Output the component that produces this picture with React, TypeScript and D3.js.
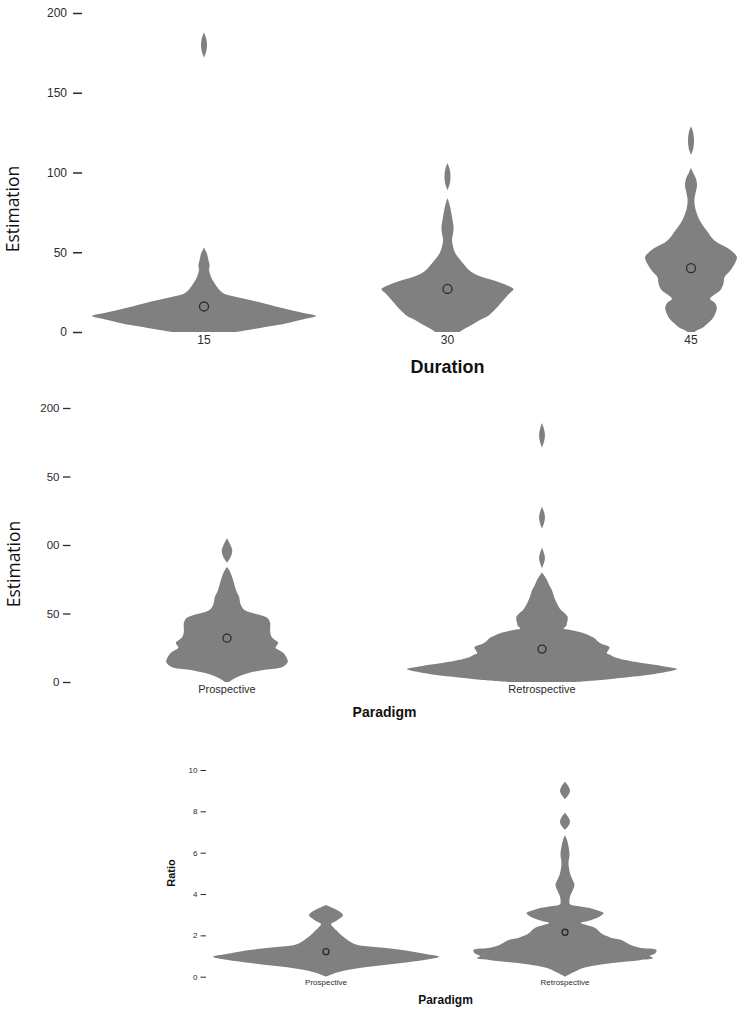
import React, { useEffect, useRef } from 'react';
import * as d3 from 'd3';

// Each violin is a list of blobs; each blob is a list of [value, relative density]
type Point = [number, number];
type Violin = Point[][];

// --- Estimation by duration ---
const durationCategories = ['15', '30', '45'];
const durationMeans = [16, 27, 40];

const duration15: Violin = [
  [[0, .29], [2, .46], [4, .63], [6, .77], [8, .89], [10, 1], [12, .88], [14, .76], [16, .64], [18, .53],
   [20, .41], [22, .29], [24, .18], [27, .13], [31, .09], [35, .06], [39, .045], [42, .05], [45, .04], [49, .027], [53, 0]],
  [[172, 0], [176, .02], [180, .027], [184, .02], [188, 0]],
];

const duration30: Violin = [
  [[0, .11], [2.3, .16], [5, .23], [7.5, .29], [10, .36], [13.8, .42], [16, .45], [20, .5], [24, .55], [26.8, .59],
   [29, .54], [32.6, .4], [35, .29], [37.8, .21], [43, .14], [49.4, .07], [53.5, .05], [57.6, .04], [62, .05],
   [66, .054], [70, .045], [74, .036], [80, .018], [84, 0]],
  [[89, 0], [93, .02], [97.5, .027], [102, .02], [106, 0]],
];

const duration45: Violin = [
  [[0, .03], [1, .05], [3, .11], [5.5, .15], [8.2, .19], [12, .22], [15.5, .23], [18.5, .21], [20.7, .17], [23, .2],
   [26, .26], [30.3, .29], [34.5, .3], [37.6, .34], [42.8, .39], [47, .41], [49, .39], [52, .34], [57.3, .21],
   [63.6, .14], [69.8, .08], [77, .04], [82.5, .03], [87, .04], [92, .054], [96, .045], [100, .018], [103, 0]],
  [[111, 0], [115, .02], [120, .027], [125, .02], [129, 0]],
];

const estimationTicks = [0, 50, 100, 150, 200];
const estimationTickLabels = ['0', '50', '100', '150', '200'];

// --- Estimation by paradigm ---
const paradigmCategories = ['Prospective', 'Retrospective'];
const paradigmMeans = [32, 24];

const prospectiveEstimation: Violin = [
  [[0, .015], [2, .045], [4.5, .1], [6.5, .16], [9, .28], [11, .41], [14.6, .45], [18, .44], [21, .42], [23, .39],
   [25, .36], [28.5, .38], [31, .35], [33, .33], [36.5, .32], [40, .32], [43, .32], [46.7, .3], [49, .24],
   [52.5, .13], [57, .1], [62, .09], [67, .067], [72, .052], [77, .037], [82, .015], [84, 0]],
  [[87, 0], [91, .026], [95.6, .039], [100, .026], [105, 0]],
];

const retrospectiveEstimation: Violin = [
  [[0, .24], [1.5, .44], [4, .68], [7, .9], [9.5, 1], [11, .93], [14, .73], [16, .62], [18.5, .53], [20, .5],
   [21, .48], [23, .49], [25.5, .5], [28, .44], [30, .41], [32, .39], [34, .35], [36, .3], [38, .21], [39, .16],
   [41, .18], [43, .185], [45.5, .19], [47.5, .19], [50, .17], [52.5, .14], [57.5, .11], [62, .09], [67, .074],
   [71, .052], [74.5, .037], [78, .015], [80, 0]],
  [[83, 0], [87, .015], [90.5, .022], [94, .015], [98, 0]],
  [[112, 0], [116, .015], [120, .022], [124, .015], [128, 0]],
  [[171, 0], [175.5, .015], [180, .022], [184.5, .015], [189, 0]],
];

const paradigmEstimationTickLabels = ['0', '50', '00', '50', '200'];

// --- Ratio by paradigm ---
const ratioMeans = [1.21, 2.15];

const prospectiveRatio: Violin = [
  [[0, 0], [0.15, .07], [0.32, .19], [0.5, .42], [0.65, .65], [0.82, .88], [0.97, 1], [1.1, .88], [1.29, .68],
   [1.42, .46], [1.53, .28], [1.7, .21], [1.94, .15], [2.2, .1], [2.42, .06], [2.55, .044], [2.7, .09],
   [2.85, .13], [2.98, .15], [3.15, .12], [3.3, .07], [3.47, 0]],
];

const retrospectiveRatio: Violin = [
  [[0, 0], [0.2, .07], [0.42, .16], [0.66, .42], [0.8, .66], [0.9, .78], [1.0, .75], [1.14, .8], [1.29, .81],
   [1.4, .66], [1.53, .58], [1.77, .5], [1.9, .4], [2.06, .33], [2.35, .27], [2.5, .19], [2.6, .14], [2.72, .22],
   [2.84, .28], [3.0, .33], [3.08, .34], [3.2, .29], [3.32, .22], [3.42, .11], [3.5, .044], [3.87, .044],
   [4.1, .062], [4.44, .084], [4.75, .062], [5.0, .044], [5.5, .031], [5.9, .04], [6.3, .031], [6.6, .018], [6.85, 0]],
  [[7.1, 0], [7.3, .031], [7.5, .044], [7.7, .031], [7.93, 0]],
  [[8.58, 0], [8.8, .031], [9.0, .044], [9.2, .031], [9.43, 0]],
];

const ratioTicks = [0, 2, 4, 6, 8, 10];
const ratioTickLabels = ['0', '2', '4', '6', '8', '10'];

const FILL = '#808080';
const INK = '#2b2b2b';

interface Panel {
  categories: string[];
  violins: Violin[];
  means: number[];
  ticks: number[];
  tickLabels: string[];
  yMax: number;
  top: number;
  bottom: number;
  left: number;
  right: number;
  maxHalf: number;
  axisX: number;
  tickSize: number;
  tickPad: number;
  tickFont: number;
  tickWidth: number;
  catFont: number;
  catY: number;
  meanR: number;
  yTitle: string;
  yTitleX: number;
  yTitleY: number;
  yTitleFont: number;
  yTitleFamily: string;
  yTitleWeight: string;
  xTitle: string;
  xTitleY: number;
  xTitleFont: number;
}

const panels: Panel[] = [
  {
    categories: durationCategories, violins: [duration15, duration30, duration45], means: durationMeans,
    ticks: estimationTicks, tickLabels: estimationTickLabels, yMax: 200,
    top: 13, bottom: 332, left: 204, right: 691, maxHalf: 112,
    axisX: 82, tickSize: 9, tickPad: 6, tickFont: 12, tickWidth: 1.5, catFont: 12, catY: 344, meanR: 4.5,
    yTitle: 'Estimation', yTitleX: 19, yTitleY: 209, yTitleFont: 17.5, yTitleFamily: '"Open Sans", sans-serif', yTitleWeight: 'normal',
    xTitle: 'Duration', xTitleY: 373, xTitleFont: 18,
  },
  {
    categories: paradigmCategories, violins: [prospectiveEstimation, retrospectiveEstimation], means: paradigmMeans,
    ticks: estimationTicks, tickLabels: paradigmEstimationTickLabels, yMax: 200,
    top: 408, bottom: 682, left: 227, right: 542, maxHalf: 135,
    axisX: 70.5, tickSize: 7.5, tickPad: 3.5, tickFont: 11.5, tickWidth: 1.3, catFont: 11, catY: 693, meanR: 4,
    yTitle: 'Estimation', yTitleX: 20, yTitleY: 564, yTitleFont: 17.5, yTitleFamily: '"Open Sans", sans-serif', yTitleWeight: 'normal',
    xTitle: 'Paradigm', xTitleY: 717, xTitleFont: 14,
  },
  {
    categories: paradigmCategories, violins: [prospectiveRatio, retrospectiveRatio], means: ratioMeans,
    ticks: ratioTicks, tickLabels: ratioTickLabels, yMax: 10,
    top: 770, bottom: 976.7, left: 326, right: 565, maxHalf: 113,
    axisX: 206, tickSize: 5.5, tickPad: 3, tickFont: 8, tickWidth: 1, catFont: 8, catY: 985, meanR: 3,
    yTitle: 'Ratio', yTitleX: 175, yTitleY: 873, yTitleFont: 11, yTitleFamily: '"Liberation Sans", Arial, sans-serif', yTitleWeight: 'bold',
    xTitle: 'Paradigm', xTitleY: 1004, xTitleFont: 12,
  },
];

const App: React.FC = () => {
  const svgRef = useRef<SVGSVGElement>(null);

  useEffect(() => {
    if (!svgRef.current) return;
    const svg = d3.select(svgRef.current);
    svg.selectAll('*').remove();

    panels.forEach((p) => {
      const y = d3.scaleLinear().domain([0, p.yMax]).range([p.bottom, p.top]);
      const x = d3.scalePoint<string>().domain(p.categories).range([p.left, p.right]);
      const w = d3.scaleLinear().domain([0, 1]).range([0, p.maxHalf]);
      const g = svg.append('g');

      // y axis: ticks and labels only, no domain line
      const axis = d3.axisLeft(y)
        .tickValues(p.ticks)
        .tickSize(p.tickSize)
        .tickPadding(p.tickPad)
        .tickFormat((_, i) => p.tickLabels[i]);
      const ax = g.append('g')
        .attr('transform', `translate(${p.axisX},0)`)
        .call(axis);
      ax.select('.domain').remove();
      ax.attr('font-family', '"Liberation Sans", Arial, sans-serif').attr('font-size', p.tickFont);
      ax.selectAll('line').attr('stroke', INK).attr('stroke-width', p.tickWidth);
      ax.selectAll('text').attr('fill', INK);

      // violins and mean markers
      p.categories.forEach((c, i) => {
        const cx = x(c) as number;
        const area = d3.area<Point>()
          .y((d) => y(d[0]))
          .x0((d) => cx - w(d[1]))
          .x1((d) => cx + w(d[1]))
          .curve(d3.curveCatmullRom.alpha(0.5));
        p.violins[i].forEach((blob) => {
          g.append('path').attr('d', area(blob) ?? '').attr('fill', FILL);
        });
        g.append('circle')
          .attr('cx', cx)
          .attr('cy', y(p.means[i]))
          .attr('r', p.meanR)
          .attr('fill', 'none')
          .attr('stroke', INK)
          .attr('stroke-width', 1.3);

        g.append('text')
          .attr('x', cx)
          .attr('y', p.catY)
          .attr('text-anchor', 'middle')
          .attr('font-family', '"Liberation Sans", Arial, sans-serif')
          .attr('font-size', p.catFont)
          .attr('fill', INK)
          .text(c);
      });

      // axis titles
      g.append('text')
        .attr('transform', `translate(${p.yTitleX},${p.yTitleY}) rotate(-90)`)
        .attr('text-anchor', 'middle')
        .attr('font-family', p.yTitleFamily)
        .attr('font-weight', p.yTitleWeight)
        .attr('font-size', p.yTitleFont)
        .attr('fill', '#111')
        .text(p.yTitle);

      g.append('text')
        .attr('x', (p.left + p.right) / 2)
        .attr('y', p.xTitleY)
        .attr('text-anchor', 'middle')
        .attr('font-family', '"Liberation Sans", Arial, sans-serif')
        .attr('font-weight', 'bold')
        .attr('font-size', p.xTitleFont)
        .attr('fill', '#111')
        .text(p.xTitle);
    });
  }, []);

  return (
    <svg
      ref={svgRef}
      width={742}
      height={1012}
      style={{ position: 'absolute', left: 0, top: 0, background: '#fff' }}
    />
  );
};

export default App;
